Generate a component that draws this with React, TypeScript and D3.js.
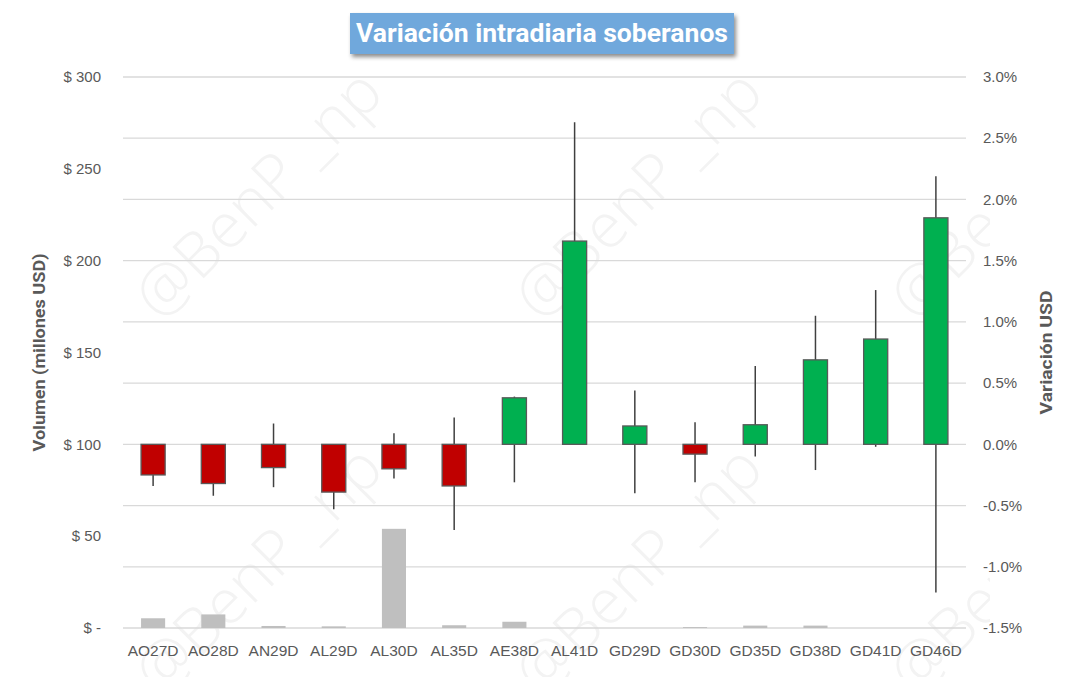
import React from "react";
import * as d3 from "d3";

const categories = ["AO27D","AO28D","AN29D","AL29D","AL30D","AL35D","AE38D","AL41D","GD29D","GD30D","GD35D","GD38D","GD41D","GD46D"];
// volume in millions USD (left axis)
const volume = [5.3, 7.4, 1.1, 0.9, 54, 1.5, 3.4, 0, 0, 0.5, 1.3, 1.3, 0, 0];
// intraday variation in % (right axis); open is 0
const openPct = [0,0,0,0,0,0,0,0,0,0,0,0,0,0];
const closePct = [-0.25, -0.32, -0.19, -0.39, -0.20, -0.34, 0.38, 1.66, 0.15, -0.08, 0.16, 0.69, 0.86, 1.85];
const highPct = [0, 0, 0.17, 0, 0.09, 0.22, 0.39, 2.63, 0.44, 0.18, 0.64, 1.05, 1.26, 2.19];
const lowPct = [-0.34, -0.42, -0.35, -0.53, -0.28, -0.70, -0.31, 0, -0.40, -0.31, -0.10, -0.21, -0.02, -1.21];
const leftTicks = [0, 50, 100, 150, 200, 250, 300];
const rightTicks = [-1.5, -1.0, -0.5, 0, 0.5, 1.0, 1.5, 2.0, 2.5, 3.0];
const title = "Variación intradiaria soberanos";
const leftTitle = "Volumen (millones USD)";
const rightTitle = "Variación USD";
const watermark = "@BenP _np";
const watermarkAnchors = [[160, 322], [540, 322], [915, 322], [160, 698], [540, 698], [915, 698]];

const W = 1085, H = 677;
const X0 = 123, X1 = 966, YT = 77, YB = 628;

export default function App() {
  const x = d3.scaleBand().domain(categories).range([X0, X1]).padding(0);
  const bw = x.bandwidth() * 0.4;
  const yL = d3.scaleLinear().domain([0, 300]).range([YB, YT]);
  const yR = d3.scaleLinear().domain([-1.5, 3]).range([YB, YT]);
  const tickFont = "'Liberation Sans', Arial, sans-serif";
  const grey = "#595959";
  const fmtL = (v: number) => (v === 0 ? "$ -" : `$ ${v}`);
  const fmtR = (v: number) => `${v.toFixed(1)}%`;

  return (
    <svg width={W} height={H} style={{ position: "absolute", left: 0, top: 0, background: "#fff" }}>
      <defs>
        <filter id="sh" x="-10%" y="-30%" width="120%" height="180%">
          <feDropShadow dx="2" dy="3" stdDeviation="2" floodColor="#000" floodOpacity="0.45" />
        </filter>
        <clipPath id="clipAll"><rect x={0} y={60} width={990} height={H - 60} /></clipPath>
      </defs>
      <rect x={0} y={0} width={W} height={H} fill="#fff" />
      {/* watermark */}
      <g clipPath="url(#clipAll)">
        {watermarkAnchors.map(([ax, ay], i) => (
          <text key={i} x={0} y={0} transform={`translate(${ax},${ay}) rotate(-45)`}
            fontFamily="'Open Sans', 'Liberation Sans', sans-serif" fontWeight={300}
            fontSize={62} fill="#F3F3F3" textLength={320} lengthAdjust="spacingAndGlyphs">{watermark}</text>
        ))}
      </g>
      {/* gridlines */}
      {rightTicks.map((t) => (
        <line key={t} x1={X0} x2={X1} y1={yR(t)} y2={yR(t)} stroke="#D9D9D9" strokeWidth={1.3} />
      ))}
      {/* left tick labels */}
      {leftTicks.map((t) => (
        <text key={t} x={101} y={yL(t)} dy="0.35em" textAnchor="end" fontFamily={tickFont} fontSize={15} fill={grey}>{fmtL(t)}</text>
      ))}
      {/* right tick labels */}
      {rightTicks.map((t) => (
        <text key={t} x={983} y={yR(t)} dy="0.35em" textAnchor="start" fontFamily={tickFont} fontSize={15} fill={grey}>{fmtR(t)}</text>
      ))}
      {/* category labels */}
      {categories.map((c) => (
        <text key={c} x={(x(c) as number) + x.bandwidth() / 2} y={656} textAnchor="middle" fontFamily={tickFont} fontSize={15.5} fill={grey}>{c}</text>
      ))}
      {/* volume bars */}
      {categories.map((c, i) => (
        volume[i] > 0 ? <rect key={c} x={(x(c) as number) + x.bandwidth() / 2 - bw / 2} y={yL(volume[i])} width={bw} height={YB - yL(volume[i])} fill="#BFBFBF" /> : null
      ))}
      {/* candles */}
      {categories.map((c, i) => {
        const cx = (x(c) as number) + x.bandwidth() / 2;
        const o = openPct[i], cl = closePct[i];
        const top = yR(Math.max(o, cl)), bot = yR(Math.min(o, cl));
        const up = cl >= o;
        return (
          <g key={c}>
            <line x1={cx} x2={cx} y1={yR(highPct[i])} y2={yR(lowPct[i])} stroke="#404040" strokeWidth={1.5} />
            <rect x={cx - bw / 2} y={top} width={bw} height={Math.max(bot - top, 1)} fill={up ? "#00B050" : "#C00000"} stroke={grey} strokeWidth={1.3} />
          </g>
        );
      })}
      {/* axis titles */}
      <text transform={`translate(45,${(YT + YB) / 2}) rotate(-90)`} textAnchor="middle" fontFamily="Roboto, 'Liberation Sans', sans-serif" fontWeight={700} fontSize={16} fill={grey} textLength={198} lengthAdjust="spacingAndGlyphs">{leftTitle}</text>
      <text transform={`translate(1052,${(YT + YB) / 2}) rotate(-90)`} textAnchor="middle" fontFamily="Roboto, 'Liberation Sans', sans-serif" fontWeight={700} fontSize={16} fill={grey} textLength={124} lengthAdjust="spacingAndGlyphs">{rightTitle}</text>
      {/* title */}
      <rect x={350} y={13} width={384} height={41} fill="#6FA8DC" filter="url(#sh)" />
      <text x={542} y={42} textAnchor="middle" fontFamily="Roboto, 'Liberation Sans', sans-serif" fontWeight={700} fontSize={25} fill="#fff" textLength={372} lengthAdjust="spacingAndGlyphs">{title}</text>
    </svg>
  );
}
